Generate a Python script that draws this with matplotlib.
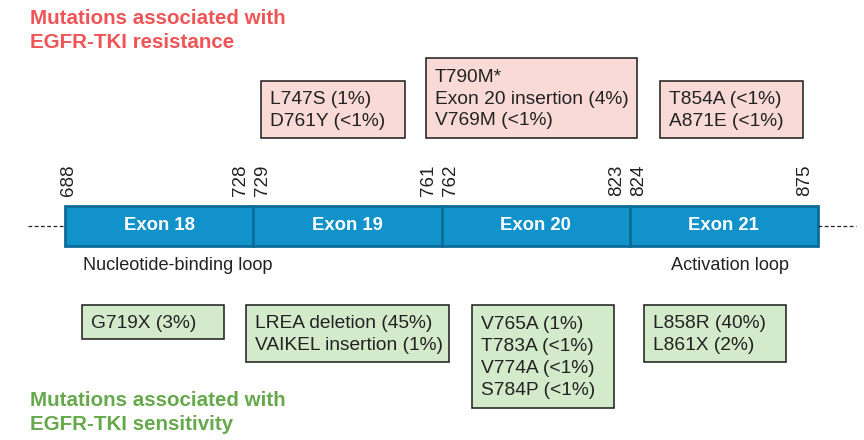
import matplotlib
matplotlib.use("Agg")
import matplotlib.pyplot as plt
from matplotlib.patches import Rectangle

plt.rcParams['font.family'] = ['Liberation Sans', 'DejaVu Sans']

# ---- data ----
exon_names = ["Exon 18", "Exon 19", "Exon 20", "Exon 21"]
exon_start = [688, 729, 762, 824]
exon_end = [728, 761, 823, 875]
resistance = [
    [],
    ["L747S (1%)", "D761Y (<1%)"],
    ["T790M*", "Exon 20 insertion (4%)", "V769M (<1%)"],
    ["T854A (<1%)", "A871E (<1%)"],
]
sensitivity = [
    ["G719X (3%)"],
    ["LREA deletion (45%)", "VAIKEL insertion (1%)"],
    ["V765A (1%)", "T783A (<1%)", "V774A (<1%)", "S784P (<1%)"],
    ["L858R (40%)", "L861X (2%)"],
]
region_labels = ["Nucleotide-binding loop", "Activation loop"]
title_res = "Mutations associated with\nEGFR-TKI resistance"
title_sen = "Mutations associated with\nEGFR-TKI sensitivity"

# ---- layout (pixel coordinates) ----
X0, W = 65, 188.25
BAR_TOP, BAR_BOT = 206, 246
res_box_x = [None, (261, 405), (426, 637), (660, 803)]
sen_box_x = [(82, 224), (246, 449), (472, 614), (644, 786)]
RES_BOTTOM = 138
SEN_TOP = 305
LINE_H = 23.0
PAD = 12

bar_col = "#1192CB"
bar_edge = "#0C6C98"
pink = "#F9DAD6"
green = "#D3EACB"
red_t = "#EF5457"
green_t = "#66A84C"
txt = "#222222"

BOX_FS = 13.8

fig = plt.figure(figsize=(8.64, 4.4), dpi=100)
ax = fig.add_axes([0, 0, 1, 1])
ax.set_xlim(0, 864)
ax.set_ylim(440, 0)
ax.axis("off")

# dashed continuation lines
yc = (BAR_TOP + BAR_BOT) / 2
ax.plot([28, X0], [yc, yc], ls=(0, (3, 2)), color="#222222", lw=0.9)
ax.plot([X0 + 4 * W, 856], [yc, yc], ls=(0, (3, 2)), color="#222222", lw=0.9)

for i, name in enumerate(exon_names):
    xl = X0 + i * W
    ax.add_patch(Rectangle((xl, BAR_TOP), W, BAR_BOT - BAR_TOP,
                           facecolor=bar_col, edgecolor=bar_edge, lw=2.0))
    ax.text(xl + W / 2, yc, name, color="white", fontsize=13.3,
            fontweight="bold", ha="center", va="center")
    off_s = 3 if i == 0 else 9
    ax.text(xl + off_s, 196, str(exon_start[i]), rotation=90, fontsize=13.5,
            ha="center", va="bottom", color=txt)
    ax.text(xl + W - 13, 196, str(exon_end[i]), rotation=90, fontsize=13.5,
            ha="center", va="bottom", color=txt)

ax.text(83, 265, region_labels[0], fontsize=13.1, ha="left", va="center", color=txt)
ax.text(671, 265, region_labels[1], fontsize=13.1, ha="left", va="center", color=txt)

# resistance boxes
for i, muts in enumerate(resistance):
    if not muts:
        continue
    x1, x2 = res_box_x[i]
    h = PAD + LINE_H * len(muts) - 1
    ax.add_patch(Rectangle((x1, RES_BOTTOM - h), x2 - x1, h,
                           facecolor=pink, edgecolor="#1a1a1a", lw=1.1))
    ax.text(x1 + 9, RES_BOTTOM - h / 2 + 1, "\n".join(muts), fontsize=BOX_FS,
            ha="left", va="center", linespacing=1.36, color=txt)

# sensitivity boxes
for i, muts in enumerate(sensitivity):
    x1, x2 = sen_box_x[i]
    h = PAD + LINE_H * len(muts) - 1
    ax.add_patch(Rectangle((x1, SEN_TOP), x2 - x1, h,
                           facecolor=green, edgecolor="#1a1a1a", lw=1.1))
    ax.text(x1 + 9, SEN_TOP + h / 2 + 1, "\n".join(muts), fontsize=BOX_FS,
            ha="left", va="center", linespacing=1.36, color=txt)

ax.text(30, 9, title_res, fontsize=14.8, fontweight="bold", color=red_t,
        ha="left", va="top", linespacing=1.3)
ax.text(30, 391, title_sen, fontsize=14.8, fontweight="bold", color=green_t,
        ha="left", va="top", linespacing=1.3)

fig.savefig("out.png", dpi=100)
